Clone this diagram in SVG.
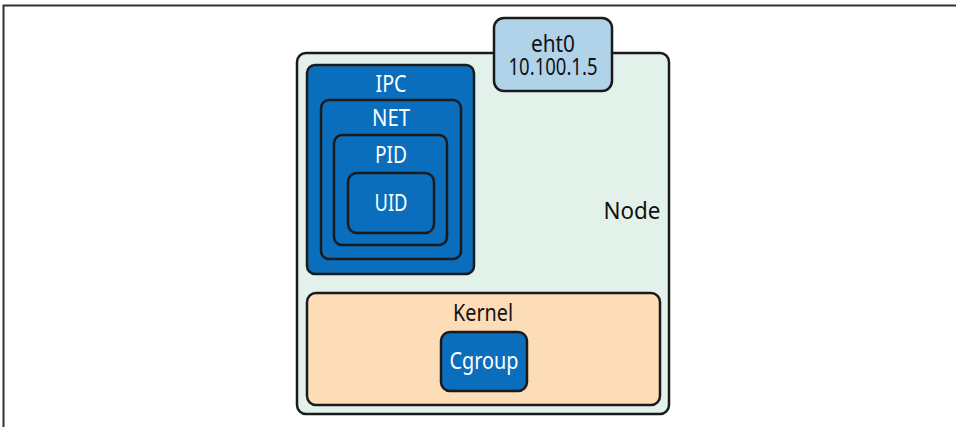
<svg xmlns="http://www.w3.org/2000/svg" width="956" height="427" viewBox="0 0 956 427">
<style>
.b{stroke:#1a1a1a;stroke-width:2.5}
.blue{fill:#0a6ebd}
.t{font-family:"Noto Sans","Open Sans",sans-serif;font-size:24px;text-anchor:middle}
.w{fill:#ffffff}
.k{fill:#111111}
</style>
<rect width="956" height="427" fill="#ffffff"/>
<path d="M3.5 427 V5.5 H956" fill="none" stroke="#333" stroke-width="2"/>
<g id="node">
<rect class="b" x="297" y="53" width="372" height="361" rx="9" fill="#e3f1eb"/>
<text class="t k" x="632" y="219" font-size="26" textLength="57" lengthAdjust="spacingAndGlyphs">Node</text>
</g>
<g id="eth0">
<rect class="b" x="494" y="18" width="118" height="73" rx="10" fill="#b1d3e9"/>
<text class="t k" x="553" y="52" font-size="22" textLength="44" lengthAdjust="spacingAndGlyphs">eht0</text>
<text class="t k" x="553" y="75" font-size="22" textLength="89" lengthAdjust="spacingAndGlyphs">10.100.1.5</text>
</g>
<g id="ipc">
<rect class="b blue" x="307" y="65" width="167" height="209" rx="8"/>
<text class="t w" x="391" y="92" textLength="31" lengthAdjust="spacingAndGlyphs">IPC</text>
</g>
<g id="net">
<rect class="b blue" x="321" y="100" width="140" height="159" rx="8"/>
<text class="t w" x="391" y="126" textLength="38" lengthAdjust="spacingAndGlyphs">NET</text>
</g>
<g id="pid">
<rect class="b blue" x="334" y="135" width="113" height="110" rx="8"/>
<text class="t w" x="391" y="163" textLength="32" lengthAdjust="spacingAndGlyphs">PID</text>
</g>
<g id="uid">
<rect class="b blue" x="348" y="173" width="86" height="60" rx="9"/>
<text class="t w" x="391" y="211" textLength="33" lengthAdjust="spacingAndGlyphs">UID</text>
</g>
<g id="kernel">
<rect class="b" x="307" y="293" width="353" height="112" rx="9" fill="#fddcb8"/>
<text class="t k" x="483" y="321" textLength="60" lengthAdjust="spacingAndGlyphs">Kernel</text>
</g>
<g id="cgroup">
<rect class="b blue" x="441" y="332" width="86" height="59" rx="9"/>
<text class="t w" x="484" y="369" textLength="69" lengthAdjust="spacingAndGlyphs">Cgroup</text>
</g>
<g id="connectors"/>
</svg>
